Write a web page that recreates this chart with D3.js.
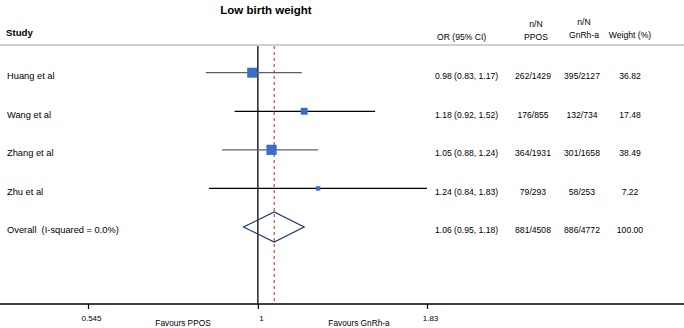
<!DOCTYPE html>
<html><head><meta charset="utf-8">
<script src="https://cdn.jsdelivr.net/npm/d3@7"></script>
<style>
html,body{margin:0;padding:0;background:#fff;}
svg{display:block;font-family:"Liberation Sans",Arial,sans-serif;}
</style></head>
<body>
<svg id="c" width="684" height="328"></svg>
<script>
const studies = ["Huang et al", "Wang et al", "Zhang et al", "Zhu et al"];
const orVals = [0.98, 1.18, 1.05, 1.24];
const ciLow = [0.83, 0.92, 0.88, 0.84];
const ciHigh = [1.17, 1.52, 1.24, 1.83];
const nPPOS = ["262/1429", "176/855", "364/1931", "79/293"];
const nGnRh = ["395/2127", "132/734", "301/1658", "58/253"];
const weights = [36.82, 17.48, 38.49, 7.22];
const overallLabel = "Overall  (I-squared = 0.0%)";
const overallOR = 1.06, overallLow = 0.95, overallHigh = 1.18;
const overallPPOS = "881/4508", overallGnRh = "886/4772", overallWeight = 100.00;
const tickVals = [0.545, 1, 1.83];
const tickLabels = ["0.545", "1", "1.83"];

const svg = d3.select("#c");
const W = 684;
const x = d3.scaleLog().domain([0.545, 1.83]).range([88, 427]);
const rows = studies.concat([overallLabel]);
const y = d3.scalePoint().domain(rows).range([72.7, 227]);
const side = d3.scaleSqrt().domain([0, 100]).range([0, 16.5]);
const fmt = d3.format(".2f");
const fs = "8.6px", fl = "9.3px";
const axisY = 304, topY = 45;

// title
svg.append("text").attr("x", 266).attr("y", 14).attr("text-anchor", "middle")
  .attr("font-weight", "bold").attr("font-size", "11.5px").text("Low birth weight");

// headers
svg.append("text").attr("x", 6).attr("y", 36).attr("font-weight", "bold").attr("font-size", "9.7px").text("Study");
svg.append("text").attr("x", 437).attr("y", 40).attr("font-size", fs).text("OR (95% CI)");
svg.append("text").attr("x", 536).attr("y", 27).attr("text-anchor", "middle").attr("font-size", fs).text("n/N");
svg.append("text").attr("x", 536).attr("y", 40).attr("text-anchor", "middle").attr("font-size", fs).text("PPOS");
svg.append("text").attr("x", 584).attr("y", 25).attr("text-anchor", "middle").attr("font-size", fs).text("n/N");
svg.append("text").attr("x", 584).attr("y", 38).attr("text-anchor", "middle").attr("font-size", fs).text("GnRh-a");
svg.append("text").attr("x", 630).attr("y", 38).attr("text-anchor", "middle").attr("font-size", fs).text("Weight (%)");

svg.append("line").attr("x1", 0).attr("x2", W).attr("y1", topY).attr("y2", topY)
  .attr("stroke", "#cfcfcf").attr("stroke-width", 2);

// null line
svg.append("line").attr("x1", x(1)).attr("x2", x(1)).attr("y1", topY + 1).attr("y2", axisY)
  .attr("stroke", "#000").attr("stroke-width", 1.3);

// CI lines
const ciColor = ["#606060", "#000", "#606060", "#000"];
studies.forEach((s, i) => {
  svg.append("line").attr("x1", x(ciLow[i])).attr("x2", x(ciHigh[i]))
    .attr("y1", y(s)).attr("y2", y(s)).attr("stroke", ciColor[i]).attr("stroke-width", 1.3);
});

// overall dashed line
svg.append("line").attr("x1", x(overallOR)).attr("x2", x(overallOR)).attr("y1", topY + 1).attr("y2", axisY)
  .attr("stroke", "#b8282e").attr("stroke-width", 1).attr("stroke-dasharray", "3,3");

// squares (area proportional to weight)
studies.forEach((s, i) => {
  const d = side(weights[i]);
  svg.append("rect").attr("x", x(orVals[i]) - d / 2).attr("y", y(s) - d / 2)
    .attr("width", d).attr("height", d).attr("fill", "#3b6dcc");
});

// diamond
const yo = y(overallLabel);
svg.append("path")
  .attr("d", `M${x(overallLow)},${yo}L${x(overallOR)},${yo - 15}L${x(overallHigh)},${yo}L${x(overallOR)},${yo + 15}Z`)
  .attr("fill", "none").attr("stroke", "#1c3773").attr("stroke-width", 1.2);

// row texts
const rowData = studies.map((s, i) => ({
  label: s, or: `${fmt(orVals[i])} (${fmt(ciLow[i])}, ${fmt(ciHigh[i])})`,
  p: nPPOS[i], g: nGnRh[i], w: fmt(weights[i])
})).concat([{
  label: overallLabel, or: `${fmt(overallOR)} (${fmt(overallLow)}, ${fmt(overallHigh)})`,
  p: overallPPOS, g: overallGnRh, w: fmt(overallWeight)
}]);
rowData.forEach(r => {
  const by = y(r.label) + 6.4;
  svg.append("text").attr("x", 7).attr("y", by).attr("font-size", fl).attr("xml:space", "preserve").text(r.label);
  svg.append("text").attr("x", 435).attr("y", by).attr("font-size", fs).text(r.or);
  svg.append("text").attr("x", 533).attr("y", by).attr("text-anchor", "middle").attr("font-size", fs).text(r.p);
  svg.append("text").attr("x", 582).attr("y", by).attr("text-anchor", "middle").attr("font-size", fs).text(r.g);
  svg.append("text").attr("x", 630).attr("y", by).attr("text-anchor", "middle").attr("font-size", fs).text(r.w);
});

// axis
svg.append("line").attr("x1", 0).attr("x2", W).attr("y1", axisY).attr("y2", axisY)
  .attr("stroke", "#000").attr("stroke-width", 1.4);
const axis = d3.axisBottom(x).tickValues(tickVals).tickFormat((d, i) => tickLabels[i]).tickSize(5).tickPadding(6);
const ag = svg.append("g").attr("transform", `translate(0,${axisY})`).call(axis);
ag.select(".domain").remove();
ag.selectAll(".tick line").attr("stroke", "#000").attr("stroke-width", 1.2);
ag.selectAll(".tick text").attr("font-size", "8px").attr("font-family", "Liberation Sans, Arial, sans-serif")
  .attr("fill", "#000").attr("dx", "3");

svg.append("text").attr("x", 183).attr("y", 326).attr("text-anchor", "middle").attr("font-size", "8.3px").text("Favours PPOS");
svg.append("text").attr("x", 359).attr("y", 326).attr("text-anchor", "middle").attr("font-size", "8.3px").text("Favours GnRh-a");
</script>
</body></html>
